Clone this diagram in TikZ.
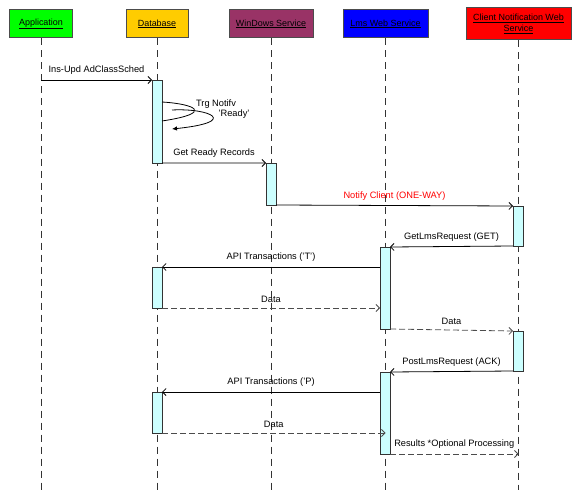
\documentclass[tikz,border=0pt]{standalone}
\usepackage{fontspec}
\setmainfont{Liberation Sans}
\usetikzlibrary{arrows.meta}
\definecolor{appgreen}{HTML}{00FF00}
\definecolor{dbyellow}{HTML}{FFCC00}
\definecolor{winpurple}{HTML}{993366}
\definecolor{lmsblue}{HTML}{0000FF}
\definecolor{clientred}{HTML}{FF0000}
\definecolor{actfill}{HTML}{CCFFFF}
\tikzset{
  head/.style={draw=black!70,line width=1bp,minimum height=28bp,inner sep=1bp,align=center,font=\fontsize{9}{11}\selectfont},
  act/.style={draw=black!80,fill=actfill,line width=.8bp,minimum width=10bp,inner sep=0,outer sep=0,anchor=north west},
  lifeline/.style={black!80,line width=1bp,dash pattern=on 7bp off 5bp},
  msg/.style={-{Straight Barb[length=3.5bp,width=7bp]},line width=.8bp},
  reply/.style={msg,black!70,dash pattern=on 6bp off 3bp},
  lbl/.style={above=1.5bp,text=black,font=\fontsize{9.3}{11}\selectfont}
}
\begin{document}
\begin{tikzpicture}[x=1bp,y=-1bp]
\useasboundingbox (0,0) rectangle (580,502);
% heads
\node[head,fill=appgreen,minimum width=62bp] (app) at (41,24) {\underline{Application}};
\node[head,fill=dbyellow,minimum width=62bp] (db) at (157,24) {\underline{Database}};
\node[head,fill=winpurple,minimum width=84bp] (win) at (271,24) {\underline{WinDows Service}};
\node[head,fill=lmsblue,minimum width=85bp] (lms) at (385.5,24) {\underline{Lms Web Service}};
\node[head,fill=clientred,minimum width=105bp,minimum height=32bp] (cli) at (518.5,24) {\underline{Client Notification Web}\\\underline{Service}};
% lifelines
\foreach \n in {app,db,win,lms,cli}
  \draw[lifeline] (\n.south) -- (\n.south |- 0,490);
% activations
\node[act,minimum height=83bp] (db1) at (152,80) {};
\node[act,minimum height=42bp] (win1) at (266,163) {};
\node[act,minimum height=40bp] (cli1) at (513,206) {};
\node[act,minimum height=82bp] (lms1) at (380,247) {};
\node[act,minimum height=41bp] (db2) at (152,267) {};
\node[act,minimum height=40bp] (cli2) at (513,331) {};
\node[act,minimum height=82bp] (lms2) at (380,372) {};
\node[act,minimum height=41bp] (db3) at (152,392) {};
% messages
\draw[msg] (app |- db1.north) -- node[lbl]{Ins-Upd AdClassSched} (db1.north west);
\coordinate (trg1) at (162,102);
\coordinate (trg2) at (162,121);
\coordinate (trg3) at (172,110);
\coordinate (trg4) at (172,129);
\draw[line width=.8bp] (trg1) .. controls (195,104) and (215,113) .. (trg2);
\draw[line width=.8bp,-{Latex[length=5bp,width=4.5bp]}] (trg3) .. controls (210,108) and (240,122) .. (trg4);
\node[font=\fontsize{9.3}{11}\selectfont] (trglbl) at (216,104) {Trg Notifv};
\node[font=\fontsize{9.3}{11}\selectfont] (readylbl) at (234,114) {'Ready'};
\draw[msg] (db1.south east) -- node[lbl]{Get Ready Records} (win1.north west);
\draw[msg] (win1.south east) -- node[lbl,text=clientred]{Notify Client (ONE-WAY)} (cli1.north west);
\draw[msg] (cli1.south west) -- node[lbl]{GetLmsRequest (GET)} (lms1.north east);
\draw[msg] (lms1.west |- db2.north) -- node[lbl]{API Transactions ('T')} (db2.north east);
\draw[reply] (db2.south east) -- node[lbl]{Data} (lms1.west |- db2.south);
\draw[reply] (lms1.south east) -- node[lbl]{Data} (cli2.north west);
\draw[msg] (cli2.south west) -- node[lbl]{PostLmsRequest (ACK)} (lms2.north east);
\draw[msg] (lms2.west |- db3.north) -- node[lbl]{API Transactions ('P)} (db3.north east);
\draw[reply] (db3.south east) -- node[lbl]{Data} (lms |- db3.south);
\draw[reply] (lms2.south east) -- node[lbl]{Results *Optional Processing} (cli |- lms2.south);
\end{tikzpicture}
\end{document}
